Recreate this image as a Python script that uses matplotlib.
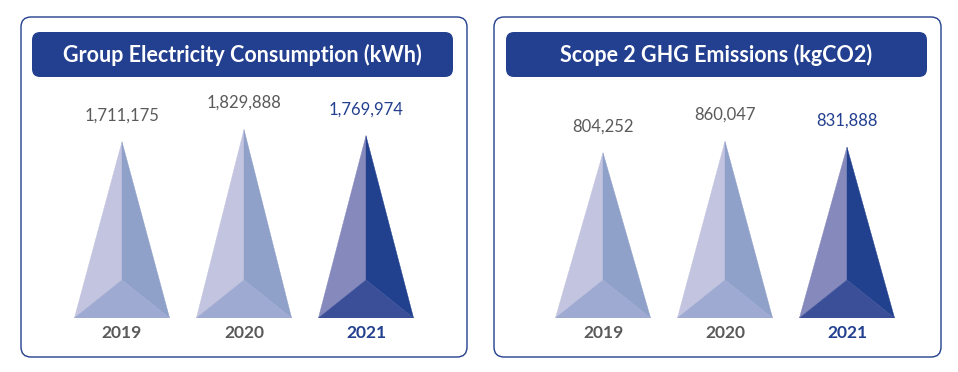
import matplotlib
matplotlib.use('Agg')
import matplotlib.pyplot as plt
from matplotlib.patches import FancyBboxPatch, Polygon

plt.rcParams['font.family'] = ['Lato', 'DejaVu Sans']

# data
years = ['2019', '2020', '2021']
electricity = [1711175, 1829888, 1769974]
emissions = [804252, 860047, 831888]
titles = ['Group Electricity Consumption (kWh)', 'Scope 2 GHG Emissions (kgCO2)']

NAVY = '#233f8f'
GREY = '#5a5a5a'
light_faces = ('#c3c4df', '#8fa0c9', '#9eaad2')
dark_faces = ('#8689bc', '#21418f', '#3a4f98')

W, H = 958, 372
fig = plt.figure(figsize=(W / 100, H / 100), dpi=100)

bg = fig.add_axes([0, 0, 1, 1])
bg.set_xlim(0, W)
bg.set_ylim(H, 0)
bg.axis('off')


def frame(x0, x1, pill0, pill1, title):
    box = FancyBboxPatch((x0, 17), x1 - x0, 340, boxstyle='round,pad=0,rounding_size=10',
                         fc='white', ec=NAVY, lw=1.0)
    bg.add_patch(box)
    pill = FancyBboxPatch((pill0, 32), pill1 - pill0, 45, boxstyle='round,pad=0,rounding_size=8',
                          fc=NAVY, ec='none')
    bg.add_patch(pill)
    bg.text((pill0 + pill1) / 2, 55, title, color='white', fontsize=15.5,
            fontweight='bold', ha='center', va='center')


def pyramids(px0, px1, values, ymax):
    ax = fig.add_axes([px0 / W, 54 / H, (px1 - px0) / W, 238 / H])
    ax.set_xlim(-0.5, 2.5)
    ax.set_ylim(0, ymax)
    ax.axis('off')
    hw = 0.39
    inner = ymax * 38 / 238
    for i, (yr, v) in enumerate(zip(years, values)):
        faces = dark_faces if yr == '2021' else light_faces
        col = NAVY if yr == '2021' else GREY
        left = [(i - hw, 0), (i, v), (i, inner)]
        right = [(i, v), (i + hw, 0), (i, inner)]
        bottom = [(i - hw, 0), (i, inner), (i + hw, 0)]
        for pts, c in zip((left, right, bottom), faces):
            ax.add_patch(Polygon(pts, closed=True, fc=c, ec=c, lw=0.3))
        ax.annotate(f'{v:,}', (i, v), xytext=(0, 19), textcoords='offset points',
                    ha='center', va='center', fontsize=12, color=col)
        ax.annotate(yr, (i, 0), xytext=(0, -11), textcoords='offset points',
                    ha='center', va='center', fontsize=12.5, fontweight='bold', color=col)


frame(21, 467, 32, 453, titles[0])
frame(494, 941, 506, 927, titles[1])
pyramids(61, 427, electricity, 2310000)
pyramids(542, 908, emissions, 1158000)

fig.savefig('out.png', dpi=100)
